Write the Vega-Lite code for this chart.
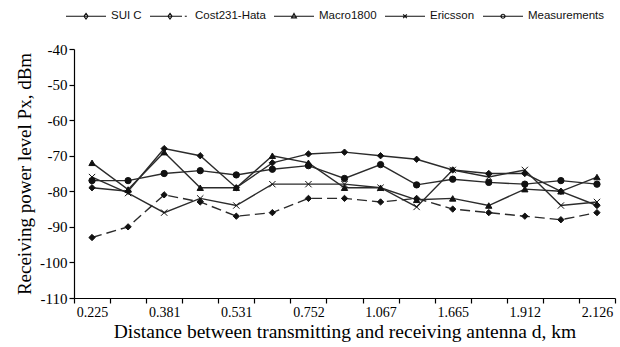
{
  "$schema": "https://vega.github.io/schema/vega-lite/v6.json",
  "width": 541,
  "height": 249,
  "autosize": {"type": "none"},
  "padding": {"left": 74, "top": 49, "right": 5, "bottom": 49},
  "background": "white",
  "data": {"values": [
    {"i":1,"s":"SUI C","v":-79},{"i":2,"s":"SUI C","v":-80},{"i":3,"s":"SUI C","v":-68},{"i":4,"s":"SUI C","v":-70},{"i":5,"s":"SUI C","v":-79},{"i":6,"s":"SUI C","v":-72},{"i":7,"s":"SUI C","v":-69.5},{"i":8,"s":"SUI C","v":-69},{"i":9,"s":"SUI C","v":-70},{"i":10,"s":"SUI C","v":-71},{"i":11,"s":"SUI C","v":-74},{"i":12,"s":"SUI C","v":-75},{"i":13,"s":"SUI C","v":-75},{"i":14,"s":"SUI C","v":-80},{"i":15,"s":"SUI C","v":-84},
    {"i":1,"s":"Cost231-Hata","v":-93},{"i":2,"s":"Cost231-Hata","v":-90},{"i":3,"s":"Cost231-Hata","v":-81},{"i":4,"s":"Cost231-Hata","v":-83},{"i":5,"s":"Cost231-Hata","v":-87},{"i":6,"s":"Cost231-Hata","v":-86},{"i":7,"s":"Cost231-Hata","v":-82},{"i":8,"s":"Cost231-Hata","v":-82},{"i":9,"s":"Cost231-Hata","v":-83},{"i":10,"s":"Cost231-Hata","v":-82},{"i":11,"s":"Cost231-Hata","v":-85},{"i":12,"s":"Cost231-Hata","v":-86},{"i":13,"s":"Cost231-Hata","v":-87},{"i":14,"s":"Cost231-Hata","v":-88},{"i":15,"s":"Cost231-Hata","v":-86},
    {"i":1,"s":"Macro1800","v":-72},{"i":2,"s":"Macro1800","v":-79.5},{"i":3,"s":"Macro1800","v":-69},{"i":4,"s":"Macro1800","v":-79},{"i":5,"s":"Macro1800","v":-79},{"i":6,"s":"Macro1800","v":-70},{"i":7,"s":"Macro1800","v":-72},{"i":8,"s":"Macro1800","v":-79},{"i":9,"s":"Macro1800","v":-79},{"i":10,"s":"Macro1800","v":-82.4},{"i":11,"s":"Macro1800","v":-82},{"i":12,"s":"Macro1800","v":-84},{"i":13,"s":"Macro1800","v":-79.4},{"i":14,"s":"Macro1800","v":-80},{"i":15,"s":"Macro1800","v":-76},
    {"i":1,"s":"Ericsson","v":-76},{"i":2,"s":"Ericsson","v":-80.5},{"i":3,"s":"Ericsson","v":-86},{"i":4,"s":"Ericsson","v":-82},{"i":5,"s":"Ericsson","v":-84},{"i":6,"s":"Ericsson","v":-78},{"i":7,"s":"Ericsson","v":-78},{"i":8,"s":"Ericsson","v":-78},{"i":9,"s":"Ericsson","v":-79},{"i":10,"s":"Ericsson","v":-84.4},{"i":11,"s":"Ericsson","v":-74},{"i":12,"s":"Ericsson","v":-76},{"i":13,"s":"Ericsson","v":-74},{"i":14,"s":"Ericsson","v":-84},{"i":15,"s":"Ericsson","v":-83},
    {"i":1,"s":"Measurements","v":-77},{"i":2,"s":"Measurements","v":-77},{"i":3,"s":"Measurements","v":-75},{"i":4,"s":"Measurements","v":-74.2},{"i":5,"s":"Measurements","v":-75.4},{"i":6,"s":"Measurements","v":-73.8},{"i":7,"s":"Measurements","v":-72.8},{"i":8,"s":"Measurements","v":-76.4},{"i":9,"s":"Measurements","v":-72.5},{"i":10,"s":"Measurements","v":-78.2},{"i":11,"s":"Measurements","v":-76.6},{"i":12,"s":"Measurements","v":-77.5},{"i":13,"s":"Measurements","v":-78},{"i":14,"s":"Measurements","v":-77},{"i":15,"s":"Measurements","v":-78}
  ]},
  "encoding": {
    "x": {
      "field": "i", "type": "ordinal", "bandPosition": 0.5,
      "scale": {"type": "band", "paddingInner": 0, "paddingOuter": 0},
      "axis": {
        "title": "Distance between transmitting and receiving antenna d, km",
        "titleFontSize": 19.5, "titlePadding": 3,
        "labelExpr": "['0.225','','0.381','','0.531','','0.752','','1.067','','1.665','','1.912','','2.126'][datum.value-1]",
        "labelAngle": 0, "labelFontSize": 14, "labelPadding": 2, "labelOverlap": false,
        "tickBand": "extent", "tickSize": 5
      }
    },
    "y": {
      "field": "v", "type": "quantitative",
      "scale": {"domain": [-110, -40], "nice": false, "zero": false},
      "axis": {
        "title": "Receiving power level Px, dBm",
        "titleFontSize": 19, "titlePadding": 5,
        "values": [-110, -100, -90, -80, -70, -60, -50, -40],
        "labelExpr": "replace(datum.label, '−', '-')",
        "labelFontSize": 15, "labelPadding": 2, "tickSize": 5
      }
    }
  },
  "layer": [
    {
      "transform": [{"filter": "datum.s !== 'Cost231-Hata'"}],
      "mark": {"type": "line", "strokeWidth": 1.4, "color": "#2b2b2b"},
      "encoding": {"detail": {"field": "s", "type": "nominal"}}
    },
    {
      "transform": [{"filter": "datum.s === 'Cost231-Hata'"}],
      "mark": {"type": "line", "strokeWidth": 1.4, "color": "#2b2b2b", "strokeDash": [10, 5]},
      "encoding": {"detail": {"field": "s", "type": "nominal"}}
    },
    {
      "mark": {"type": "point", "filled": true, "size": 40, "color": "#111", "stroke": "#111", "strokeWidth": 1, "opacity": 1},
      "encoding": {
        "shape": {
          "field": "s", "type": "nominal",
          "scale": {"domain": ["SUI C", "Cost231-Hata", "Macro1800", "Ericsson", "Measurements"], "range": ["diamond", "diamond", "triangle-up", "M-1,-1L1,1M-1,1L1,-1", "circle"]},
          "legend": null
        }
      }
    },
    {
      "transform": [{"filter": "false"}],
      "mark": {"type": "point", "filled": false, "color": "#111", "strokeWidth": 1.2, "opacity": 1},
      "encoding": {
        "shape": {
          "field": "s", "type": "nominal",
          "scale": {
            "domain": ["SUI C", "Cost231-Hata", "Macro1800", "Ericsson", "Measurements"],
            "range": [
              "M-1,0L1,0M0,-0.14L0.1,0L0,0.14L-0.1,0Z",
              "M-1,0L0.6,0M0.74,0L0.84,0M0,-0.14L0.1,0L0,0.14L-0.1,0Z",
              "M-1,0L1,0M0,-0.14L0.12,0.08L-0.12,0.08Z",
              "M-1,0L1,0M-0.09,-0.09L0.09,0.09M-0.09,0.09L0.09,-0.09",
              "M-1,0L1,0M0.1,0A0.1,0.1 0 1 1 -0.1,0A0.1,0.1 0 1 1 0.1,0Z"
            ]
          },
          "legend": {
            "title": null, "orient": "none", "direction": "horizontal",
            "legendX": -9, "legendY": -54, "padding": 0,
            "symbolSize": 1600, "labelOffset": 4, "columnPadding": 5,
            "symbolFillColor": "#111", "symbolStrokeColor": "#111", "symbolStrokeWidth": 1.2, "symbolOpacity": 1,
            "labelFont": "Liberation Sans", "labelFontSize": 11.5, "labelColor": "#111", "labelLimit": 200,
            "encode": {
              "symbols": {
                "update": {
                  "fill": {"value": "#111"},
                  "fillOpacity": {"value": 1},
                  "stroke": {"value": "#111"},
                  "strokeWidth": {"value": 1.2},
                  "opacity": {"value": 1}
                }
              }
            }
          }
        }
      }
    }
  ],
  "resolve": {"scale": {"shape": "independent"}},
  "config": {
    "view": {"stroke": null},
    "axis": {
      "grid": false, "domainColor": "#000", "domainWidth": 1.2, "tickColor": "#000", "tickWidth": 1.2,
      "labelFont": "Liberation Serif", "labelColor": "#000",
      "titleFont": "Liberation Serif", "titleFontWeight": "normal", "titleColor": "#000"
    }
  }
}
